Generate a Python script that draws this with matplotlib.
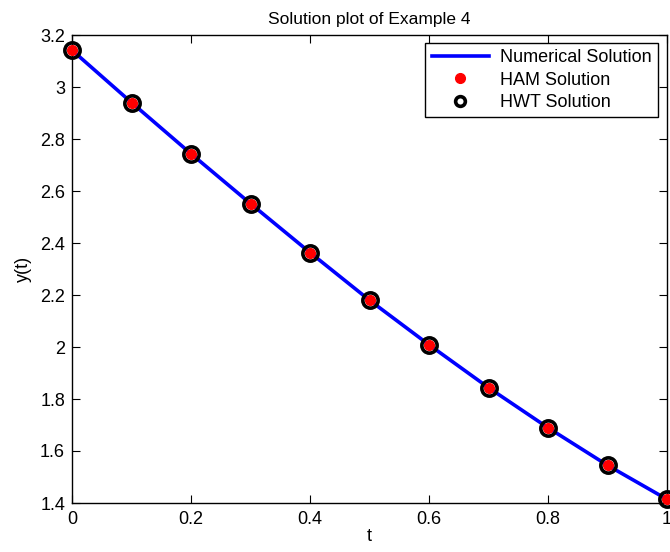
import matplotlib
matplotlib.use("Agg")
import matplotlib.pyplot as plt
from matplotlib.ticker import FormatStrFormatter

plt.rcParams["font.family"] = ["Liberation Sans", "DejaVu Sans"]

# Values
t_vals = [0.0, 0.1, 0.2, 0.3, 0.4, 0.5, 0.6, 0.7, 0.8, 0.9, 1.0]
y_numerical = [3.1416, 2.9403, 2.7433, 2.5515, 2.3634, 2.1800,
               2.0086, 1.8437, 1.6895, 1.5450, 1.4142]
y_ham = list(y_numerical)
y_hwt = list(y_numerical)
x_ticks = [0, 0.2, 0.4, 0.6, 0.8, 1]
y_ticks = [1.4, 1.6, 1.8, 2.0, 2.2, 2.4, 2.6, 2.8, 3.0, 3.2]

fig = plt.figure(figsize=(6.7, 5.52), dpi=100)
ax = fig.add_axes([72 / 670, 1 - 503 / 552, (667 - 72) / 670, (503 - 35) / 552])

line, = ax.plot(t_vals, y_numerical, color="#0000ff", linewidth=2.6,
                zorder=2, label="Numerical Solution")
hwt = ax.plot(t_vals, y_hwt, linestyle="none", marker="o", markersize=11,
              markerfacecolor="none", markeredgecolor="black",
              markeredgewidth=2.6, zorder=3, clip_on=False,
              label="HWT Solution")[0]
ham = ax.plot(t_vals, y_ham, linestyle="none", marker="o", markersize=7,
              markerfacecolor="#ff0000", markeredgecolor="#ff0000",
              zorder=4, clip_on=False, label="HAM Solution")[0]

ax.set_xlim(0, 1)
ax.set_ylim(1.4, 3.2)
ax.set_xticks(x_ticks)
ax.set_yticks(y_ticks)
ax.xaxis.set_major_formatter(FormatStrFormatter("%g"))
ax.yaxis.set_major_formatter(FormatStrFormatter("%g"))
ax.tick_params(direction="in", top=True, right=True, length=6,
               width=0.8, labelsize=13)
ax.tick_params(axis="x", pad=6)
ax.tick_params(axis="y", pad=5)
for sp in ax.spines.values():
    sp.set_linewidth(1.0)

ax.set_xlabel("t", fontsize=13, labelpad=0)
ax.set_ylabel("y(t)", fontsize=13, labelpad=6)
ax.set_title("Solution plot of Example 4", fontsize=12.5, pad=8)

leg = ax.legend([line, ham, hwt],
                ["Numerical Solution", "HAM Solution", "HWT Solution"],
                loc="upper right", bbox_to_anchor=(0.985, 0.983),
                fontsize=13, fancybox=False, framealpha=1,
                edgecolor="black", handlelength=3.2, borderpad=0.35,
                labelspacing=0.3, handletextpad=0.6, borderaxespad=0.0)
leg.get_frame().set_linewidth(1.0)
for h in leg.legend_handles[1:]:
    h.set_markersize(7)

fig.savefig("out.png", dpi=100)
plt.close(fig)
